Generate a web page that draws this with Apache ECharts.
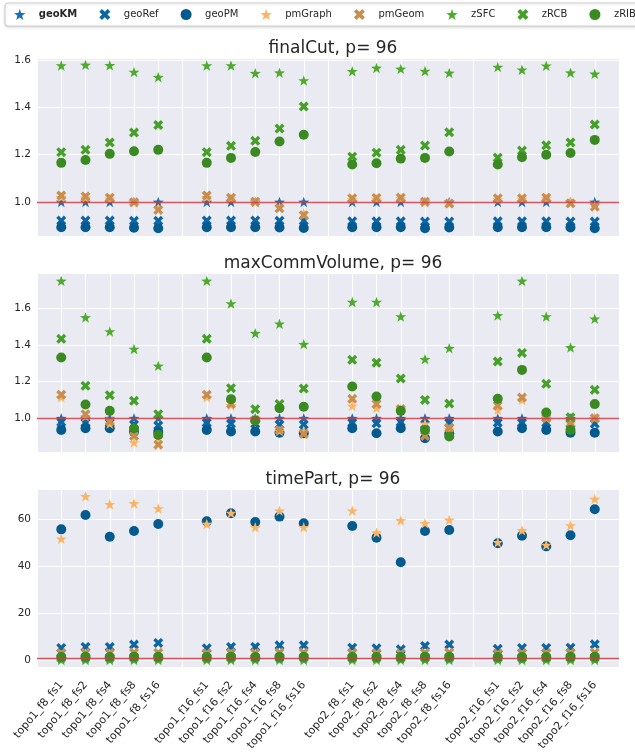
<!DOCTYPE html>
<html>
<head>
<meta charset="utf-8">
<script src="https://cdn.jsdelivr.net/npm/echarts@6/dist/echarts.min.js"></script>
<style>html,body{margin:0;padding:0;background:#fff}#c{width:635px;height:752px}</style>
</head>
<body>
<div id="c"></div>
<script>
// ---------------- DATA ----------------
const categories = [
  'topo1_f8_fs1','topo1_f8_fs2','topo1_f8_fs4','topo1_f8_fs8','topo1_f8_fs16',
  'topo1_f16_fs1','topo1_f16_fs2','topo1_f16_fs4','topo1_f16_fs8','topo1_f16_fs16',
  'topo2_f8_fs1','topo2_f8_fs2','topo2_f8_fs4','topo2_f8_fs8','topo2_f8_fs16',
  'topo2_f16_fs1','topo2_f16_fs2','topo2_f16_fs4','topo2_f16_fs8','topo2_f16_fs16'
];
const seriesNames = ['geoKM','geoRef','geoPM','pmGraph','pmGeom','zSFC','zRCB','zRIB'];
const panelTitles = ['finalCut, p= 96','maxCommVolume, p= 96','timePart, p= 96'];

// finalCut
const finalCut_geoKM   = [1.0,1.0,1.0,1.0,1.0, 1.0,1.0,1.0,1.0,1.0, 1.0,1.0,1.0,1.0,1.0, 1.0,1.0,1.0,1.0,1.0];
const finalCut_geoRef  = [0.921,0.921,0.921,0.920,0.920, 0.921,0.921,0.921,0.920,0.920, 0.918,0.918,0.918,0.917,0.917, 0.918,0.918,0.918,0.917,0.917];
const finalCut_geoPM   = [0.893,0.893,0.893,0.891,0.889, 0.893,0.893,0.893,0.892,0.890, 0.893,0.893,0.893,0.889,0.892, 0.893,0.893,0.893,0.892,0.889];
const finalCut_pmGraph = [1.020,1.018,1.013,1.000,0.972, 1.020,1.015,1.000,0.978,0.952, 1.010,1.012,1.014,1.000,0.995, 1.010,1.012,1.014,0.998,0.985];
const finalCut_pmGeom  = [1.027,1.023,1.018,0.999,0.966, 1.027,1.018,1.001,0.973,0.944, 1.015,1.017,1.018,1.001,0.993, 1.015,1.015,1.018,0.994,0.980];
const finalCut_zSFC    = [1.576,1.579,1.577,1.549,1.527, 1.576,1.576,1.544,1.546,1.513, 1.552,1.566,1.562,1.553,1.545, 1.570,1.558,1.575,1.546,1.541];
const finalCut_zRCB    = [1.210,1.220,1.251,1.293,1.325, 1.210,1.237,1.258,1.310,1.403, 1.191,1.208,1.220,1.238,1.294, 1.187,1.217,1.239,1.251,1.327];
const finalCut_zRIB    = [1.165,1.177,1.203,1.214,1.220, 1.165,1.186,1.211,1.255,1.284, 1.158,1.163,1.183,1.186,1.213, 1.158,1.189,1.199,1.207,1.262];

// maxCommVolume
const maxComm_geoKM   = [1.0,1.0,1.0,1.0,1.0, 1.0,1.0,1.0,1.0,1.0, 1.0,1.0,1.0,1.0,1.0, 1.0,1.0,1.0,1.0,1.0];
const maxComm_geoRef  = [0.978,0.975,0.975,0.965,0.960, 0.975,0.970,0.970,0.965,0.965, 0.975,0.972,0.978,0.965,0.975, 0.975,0.975,0.975,0.970,0.970];
const maxComm_geoPM   = [0.936,0.945,0.945,0.925,0.925, 0.936,0.927,0.927,0.920,0.918, 0.945,0.918,0.945,0.890,0.915, 0.927,0.945,0.936,0.920,0.920];
const maxComm_pmGraph = [1.115,1.010,0.970,0.867,0.890, 1.115,1.071,0.990,0.930,0.930, 1.067,1.056,1.050,0.969,0.940, 1.046,1.100,1.000,0.970,1.000];
const maxComm_pmGeom  = [1.128,1.022,0.982,0.903,0.855, 1.128,1.078,0.990,0.936,0.914, 1.106,1.078,1.050,0.903,0.947, 1.069,1.113,1.000,0.973,1.000];
const maxComm_zSFC    = [1.751,1.551,1.474,1.378,1.286, 1.751,1.627,1.465,1.516,1.405, 1.635,1.635,1.556,1.323,1.383, 1.562,1.751,1.556,1.387,1.544];
const maxComm_zRCB    = [1.434,1.177,1.126,1.095,1.022, 1.434,1.164,1.049,1.078,1.162, 1.319,1.303,1.217,1.100,1.080, 1.310,1.357,1.188,1.005,1.155];
const maxComm_zRIB    = [1.332,1.075,1.040,0.945,0.908, 1.332,1.104,0.987,1.055,1.062, 1.173,1.119,1.040,0.936,0.900, 1.106,1.264,1.031,0.936,1.077];

// timePart
const timePart_geoKM   = [1.0,1.0,1.0,1.0,1.0, 1.0,1.0,1.0,1.0,1.0, 1.0,1.0,1.0,1.0,1.0, 1.0,1.0,1.0,1.0,1.0];
const timePart_geoRef  = [5.4,5.8,5.8,6.8,7.5, 5.2,5.8,5.8,6.5,6.5, 5.5,5.2,4.8,6.2,6.8, 5.0,5.4,5.4,5.5,6.9];
const timePart_geoPM   = [55.6,61.7,52.5,54.9,57.9, 59.0,62.4,58.7,61.0,58.2, 57.0,52.1,41.7,54.9,55.3, 49.7,52.9,48.4,53.1,64.1];
const timePart_pmGraph = [51.6,69.6,66.2,66.6,64.4, 57.9,62.5,56.5,63.5,56.5, 63.5,54.2,59.4,58.2,59.6, 50.1,55.2,49.0,57.2,68.5];
const timePart_pmGeom  = [3.2,3.3,3.2,3.4,3.3, 3.2,3.3,3.2,3.4,3.4, 3.2,3.2,3.1,3.3,3.4, 3.1,3.2,3.2,3.3,3.4];
const timePart_zSFC    = [0.3,0.3,0.3,0.3,0.3, 0.3,0.3,0.3,0.3,0.3, 0.3,0.3,0.3,0.3,0.3, 0.3,0.3,0.3,0.3,0.3];
const timePart_zRCB    = [1.2,1.3,1.2,1.3,1.3, 1.2,1.3,1.2,1.3,1.3, 1.2,1.2,1.2,1.3,1.3, 1.2,1.2,1.2,1.3,1.3];
const timePart_zRIB    = [1.5,1.6,1.5,1.6,1.6, 1.5,1.6,1.5,1.6,1.6, 1.5,1.5,1.5,1.6,1.6, 1.5,1.5,1.5,1.6,1.6];

const yRanges = [[0.856,1.608],[0.815,1.794],[-2.7,72.7]];
const refValue = 1;

// ---------------- STYLE ----------------
const STAR = 'path://M0,-10 L2.35,-3.24 L9.51,-3.09 L3.8,1.24 L5.88,8.09 L0,4 L-5.88,8.09 L-3.8,1.24 L-9.51,-3.09 L-2.35,-3.24 Z';
const XMARK = 'path://M-5,-2.6 L-2.6,-5 L0,-2.4 L2.6,-5 L5,-2.6 L2.4,0 L5,2.6 L2.6,5 L0,2.4 L-2.6,5 L-5,2.6 L-2.4,0 Z';
const styles = {
  geoKM:   {symbol: STAR,  color: '#1b6fae', size: 11},
  geoRef:  {symbol: XMARK, color: '#0b66a5', size: 10},
  geoPM:   {symbol: 'circle', color: '#035a8f', size: 10},
  pmGraph: {symbol: STAR,  color: '#fcb462', size: 11},
  pmGeom:  {symbol: XMARK, color: '#c98e4d', size: 10},
  zSFC:    {symbol: STAR,  color: '#4dab2b', size: 11},
  zRCB:    {symbol: XMARK, color: '#45a028', size: 10},
  zRIB:    {symbol: 'circle', color: '#3b8a21', size: 10}
};
const panelData = [
  [finalCut_geoKM,finalCut_geoRef,finalCut_geoPM,finalCut_pmGraph,finalCut_pmGeom,finalCut_zSFC,finalCut_zRCB,finalCut_zRIB],
  [maxComm_geoKM,maxComm_geoRef,maxComm_geoPM,maxComm_pmGraph,maxComm_pmGeom,maxComm_zSFC,maxComm_zRCB,maxComm_zRIB],
  [timePart_geoKM,timePart_geoRef,timePart_geoPM,timePart_pmGraph,timePart_pmGeom,timePart_zSFC,timePart_zRCB,timePart_zRIB]
];

// category axis with blank separators
const axisCats = [''];
categories.forEach((c, i) => { axisCats.push(c); if (i % 5 === 4) axisCats.push(''); });
const catIndex = i => 1 + Math.floor(i / 5) * 6 + (i % 5);

const FONT = 'DejaVu Sans';
const gridTops = [58, 273, 489];
const gridHeights = [178, 179, 178];
const grids = [], xAxes = [], yAxes = [], titles = [], series = [];

for (let p = 0; p < 3; p++) {
  grids.push({left: 37, right: 16, top: gridTops[p], height: gridHeights[p],
    outerBoundsMode: 'none', containLabel: false,
    show: true, backgroundColor: '#eaeaf2', borderWidth: 0});
  xAxes.push({type: 'category', gridIndex: p, data: axisCats, boundaryGap: false,
    axisLine: {show: false}, axisTick: {show: false},
    splitLine: {show: true, lineStyle: {color: '#ffffff', width: 1}},
    axisLabel: {show: p === 2, interval: 0, rotate: 50, fontSize: 11, color: '#262626',
      fontFamily: FONT, margin: 16}});
  const step = p === 2 ? 20 : 0.2;
  yAxes.push({type: 'value', gridIndex: p, min: yRanges[p][0], max: yRanges[p][1],
    axisLine: {show: false}, axisTick: {show: false},
    splitLine: {show: true, lineStyle: {color: '#ffffff', width: 1}},
    axisLabel: {fontSize: 10.5, color: '#262626', fontFamily: FONT, margin: 6,
      showMinLabel: false, showMaxLabel: false,
      formatter: v => {
        const r = v / step;
        if (Math.abs(r - Math.round(r)) > 1e-6) return '';
        return p === 2 ? String(Math.round(v)) : v.toFixed(1);
      }}});
  titles.push({text: panelTitles[p], left: 328, top: gridTops[p] - 23, textAlign: 'center',
    textStyle: {fontFamily: FONT, fontSize: 17, fontWeight: 'normal', color: '#262626'}});
  seriesNames.forEach((name, s) => {
    const st = styles[name];
    series.push({name, type: 'scatter', xAxisIndex: p, yAxisIndex: p,
      symbol: st.symbol, symbolSize: st.size, symbolKeepAspect: true,
      itemStyle: {color: st.color, opacity: 1},
      emphasis: {disabled: true},
      data: panelData[p][s].map((v, i) => [catIndex(i), v]), z: 2 + s * 0.01});
  });
  series.push({name: 'ref' + p, type: 'scatter', xAxisIndex: p, yAxisIndex: p, data: [], z: 5,
    markLine: {silent: true, symbol: 'none', label: {show: false},
      lineStyle: {color: 'rgba(205,60,70,0.85)', width: 1.4, type: 'solid'},
      data: [{yAxis: refValue}]}});
}

const chart = echarts.init(document.getElementById('c'), null, {renderer: 'canvas'});
chart.setOption({
  animation: false,
  backgroundColor: '#ffffff',
  textStyle: {fontFamily: FONT},
  title: titles,
  legend: {
    left: 5, top: 3, width: 1200, padding: [6, 5, 6, 9],
    itemWidth: 16, itemHeight: 11, itemGap: 22,
    backgroundColor: '#ffffff', borderColor: '#d0d0d0', borderWidth: 1, borderRadius: 3,
    shadowColor: 'rgba(0,0,0,0.15)', shadowBlur: 3, shadowOffsetY: 1,
    textStyle: {fontFamily: FONT, fontSize: 10, color: '#262626', padding: [0, 0, 0, 6]},
    data: seriesNames.map(n => ({name: n,
      icon: styles[n].symbol,
      textStyle: n === 'geoKM' ? {fontWeight: 'bold'} : undefined}))
  },
  grid: grids, xAxis: xAxes, yAxis: yAxes, series
});
</script>
</body>
</html>
